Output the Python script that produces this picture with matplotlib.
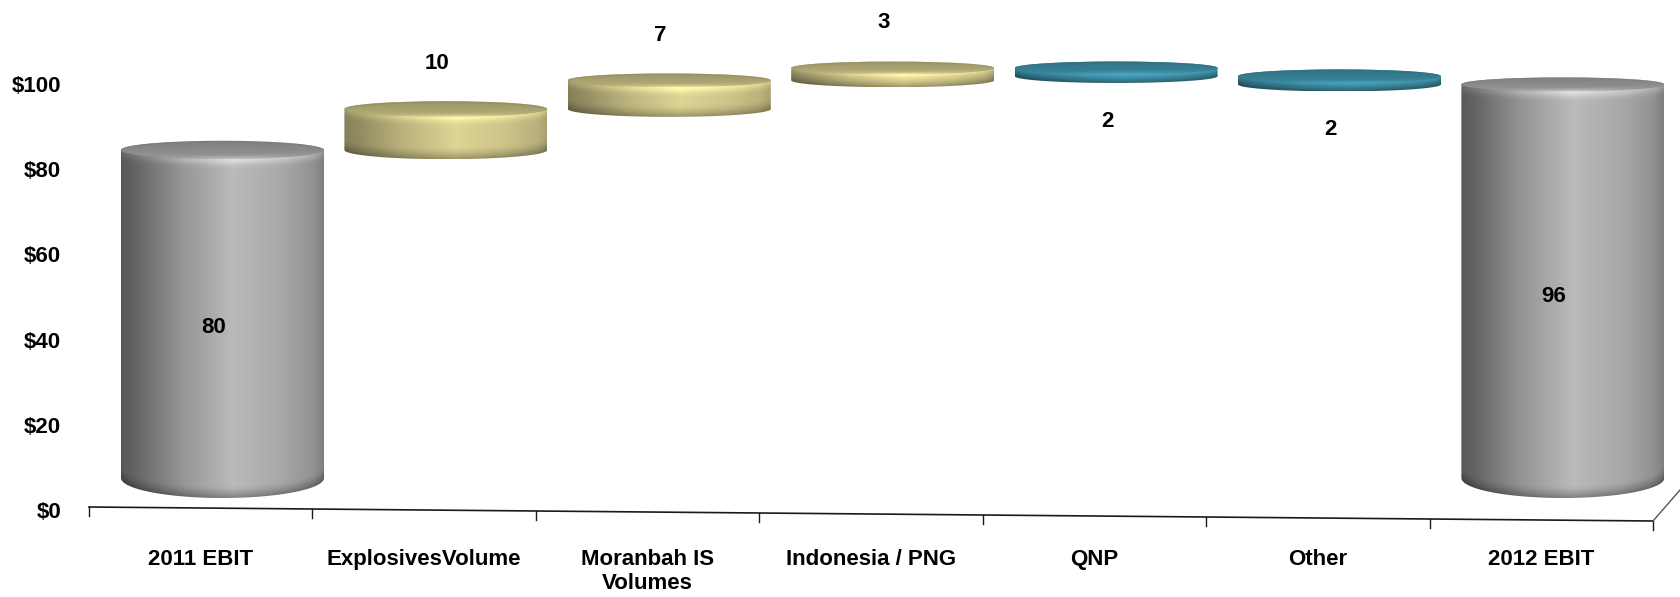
import numpy as np
import matplotlib
matplotlib.use("Agg")
import matplotlib.pyplot as plt
from matplotlib.path import Path
from matplotlib.patches import PathPatch, Ellipse

# ---------------- data ----------------
categories = ["2011 EBIT", "ExplosivesVolume", "Moranbah IS\nVolumes",
              "Indonesia / PNG", "QNP", "Other", "2012 EBIT"]
changes = [80, 10, 7, 3, -2, -2, 96]
kinds = ["total", "up", "up", "up", "down", "down", "total"]
value_labels = ["80", "10", "7", "3", "2", "2", "96"]
y_ticks = [0, 20, 40, 60, 80, 100]
y_tick_labels = ["$0", "$20", "$40", "$60", "$80", "$100"]

# ---------------- style ----------------
W, H = 1680, 597
FONT = "Liberation Sans"
colors = {"total": (0.73, 0.73, 0.73), "up": (0.87, 0.83, 0.58), "down": (0.24, 0.55, 0.64)}
contrast = {"total": 1.0, "up": 0.75, "down": 0.45}
top_k = {"total": 0.74, "up": 0.76, "down": 0.88}
prof_x = [0.0, 0.08, 0.30, 0.55, 0.80, 0.95, 1.0]
prof_b = [0.47, 0.55, 0.80, 1.00, 0.90, 0.78, 0.68]

fig = plt.figure(figsize=(W / 100, H / 100), dpi=100)
fig.patch.set_facecolor("white")

# front frame axes (value axis + category labels)
PX1 = 4.26
ax1 = fig.add_axes([89 / W, 87 / H, 1564 / W, 510 / H])
ax1.set_xlim(0, len(categories))
ax1.set_ylim(0, 510 / PX1)
for s in ax1.spines.values():
    s.set_visible(False)
ax1.set_yticks(y_ticks)
ax1.set_yticklabels(y_tick_labels)
ax1.set_xticks(np.arange(len(categories)) + 0.5)
ax1.set_xticklabels(categories)
ax1.tick_params(axis="both", length=0)
ax1.tick_params(axis="y", pad=20)
ax1.tick_params(axis="x", pad=28)
for lab in ax1.get_xticklabels() + ax1.get_yticklabels():
    lab.set_fontfamily(FONT)
    lab.set_fontweight("bold")
    lab.set_fontsize(16)
    lab.set_color("black")

# slanted floor edge with tick marks
n = len(categories)
y_left, y_right = 3 / PX1, -11 / PX1
def floor_y(x):
    return y_left + (y_right - y_left) * x / n
ax1.plot([0, n], [floor_y(0), floor_y(n)], color="#1a1a1a", lw=1.2, clip_on=False)
for i in range(n + 1):
    ax1.plot([i, i], [floor_y(i), floor_y(i) - 9 / PX1], color="#1a1a1a", lw=1.0, clip_on=False)
ax1.plot([n, n + 27 / 223.4], [floor_y(n), 20 / PX1], color="#555555", lw=1.0, clip_on=False)

# cylinder axes (bars sit a bit behind the front frame); covers full figure height
PX2 = 4.1
BASE = 478.0
SP = 223.4
ax2 = fig.add_axes([(222.5 - SP / 2) / W, 0.0, SP * n / W, 1.0])
ax2.axis("off")


def ell_h(v):
    return (20 - 0.135 * v) / PX2


def draw_cyl(ax, xc, yb, yt, w, kind):
    base = np.array(colors[kind])
    c = contrast[kind]
    a = w / 2
    hb, ht = ell_h(yb), ell_h(yt)
    r = min(3.0, (yt - yb) / 2 + 0.4)
    nx, ny = 260, 300
    xs = np.linspace(xc - a, xc + a, nx)
    ys = np.linspace(yb - hb, yt + ht, ny)
    X, Y = np.meshgrid(xs, ys)
    U = (X - xc) / a
    S = np.sqrt(np.clip(1 - U ** 2, 0, 1))
    b = np.interp((U + 1) / 2, prof_x, prof_b)
    b = 1 - c * (1 - b)
    dt = (yt - ht * S) - Y
    db = Y - (yb - hb * S)
    f = 1 + 0.20 * np.exp(-(np.clip(dt, 0, None) / (0.45 * r)) ** 2)
    dark = np.clip(1 - db / r, 0, 1)
    f = f * (1 - 0.30 * dark ** 1.5)
    img = np.clip(base[None, None, :] * (b * f)[..., None], 0, 1)
    im = ax.imshow(img, extent=(xc - a, xc + a, yb - hb, yt + ht), origin="lower",
                   aspect="auto", interpolation="bilinear", zorder=2)
    t1 = np.linspace(np.pi, 2 * np.pi, 80)
    t2 = np.linspace(0, np.pi, 80)
    verts = [(xc - a, yt)]
    verts += [(xc + a * np.cos(t), yb + hb * np.sin(t)) for t in t1]
    verts += [(xc + a * np.cos(t), yt + ht * np.sin(t)) for t in t2]
    verts.append(verts[0])
    codes = [Path.MOVETO] + [Path.LINETO] * (len(verts) - 2) + [Path.CLOSEPOLY]
    patch = PathPatch(Path(verts, codes), facecolor="none", edgecolor="none",
                      transform=ax.transData)
    ax.add_patch(patch)
    im.set_clip_path(patch)

    # top face
    xs2 = np.linspace(xc - a, xc + a, nx)
    ys2 = np.linspace(yt - ht, yt + ht, 120)
    X2, Y2 = np.meshgrid(xs2, ys2)
    U2 = (X2 - xc) / a
    V2 = (Y2 - yt) / ht
    edge = np.sqrt(np.clip(1 - U2 ** 2, 0, 1))
    tb = top_k[kind] * (1 + 0.07 * (-V2))
    de = V2 + edge
    tb = tb + 0.22 * np.exp(-(de / 0.3) ** 2) * np.exp(-((U2 - 0.1) / 0.5) ** 2)
    tb = tb - 0.05 * np.exp(-((edge - V2) / 0.25) ** 2)
    img2 = np.clip(base[None, None, :] * tb[..., None], 0, 1)
    im2 = ax.imshow(img2, extent=(xc - a, xc + a, yt - ht, yt + ht), origin="lower",
                    aspect="auto", interpolation="bilinear", zorder=3)
    ell = Ellipse((xc, yt), 2 * a, 2 * ht, facecolor="none", edgecolor="none",
                  transform=ax.transData)
    ax.add_patch(ell)
    im2.set_clip_path(ell)


running = 0.0
bar_w = 203 / SP
for i, (v, k, lab) in enumerate(zip(changes, kinds, value_labels)):
    if k == "total":
        yb, yt = 0.0, float(v)
        running = float(v)
        ly = v * 0.46
    elif v >= 0:
        yb, yt = running, running + v
        running = yt
        ly = yt + 11
    else:
        yb, yt = running + v, running
        running = yb
        ly = yb - 11
    draw_cyl(ax2, i, yb, yt, bar_w, k)
    ax2.text(i - 0.04, ly, lab, ha="center", va="center", fontsize=16, fontweight="bold",
             family=FONT, color="black", zorder=5)

ax2.set_xlim(-0.5, n - 0.5)
ax2.set_ylim(-(H - BASE) / PX2, BASE / PX2)

fig.savefig("out.png", dpi=100, facecolor="white")
